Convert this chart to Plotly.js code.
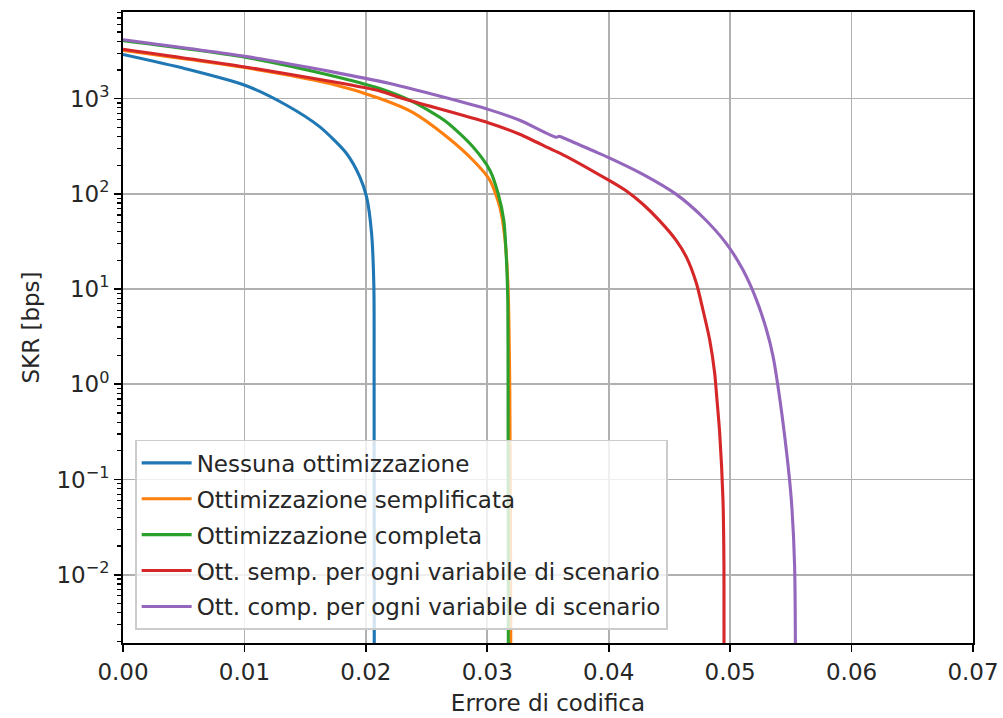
<!DOCTYPE html>
<html>
<head>
<meta charset="utf-8">
<script src="https://cdn.plot.ly/plotly-3.0.1.min.js"></script>
<style>html,body{margin:0;padding:0;background:#fff;}#chart{width:1003px;height:718px;}</style>
</head>
<body>
<div id="chart"></div>
<script>
// Series names
const seriesNames = [
  "Nessuna ottimizzazione",
  "Ottimizzazione semplificata",
  "Ottimizzazione completa",
  "Ott. semp. per ogni variabile di scenario",
  "Ott. comp. per ogni variabile di scenario"
];
const seriesColors = ["#1f77b4", "#ff7f0e", "#2ca02c", "#d62728", "#9467bd"];

// Nessuna ottimizzazione
const blueX = [0, 0.0052, 0.01004, 0.01347, 0.01621, 0.01841, 0.01951, 0.02006, 0.02047, 0.02066, 0.02068, 0.02069, 0.0207];
const blueY = [2900, 2050, 1380, 851, 504, 265, 150, 92.7, 38.6, 10.5, 1, 0.004, 0.00001];

// Ottimizzazione semplificata
const orangeX = [0, 0.01004, 0.01704, 0.02115, 0.02389, 0.02664, 0.02883, 0.03021, 0.03103, 0.03144, 0.03171, 0.03185, 0.03193, 0.03195];
const orangeY = [3200, 2115, 1436, 1000, 712, 400, 225, 139, 73, 35, 10.5, 1, 0.004, 0.00001];

// Ottimizzazione completa
const greenX = [0, 0.01004, 0.01704, 0.02115, 0.02389, 0.02664, 0.02883, 0.03021, 0.03089, 0.03136, 0.03158, 0.03169, 0.03171, 0.03173, 0.03174];
const greenY = [4050, 2720, 1760, 1274, 921, 568, 310, 177, 101, 52.8, 20, 7.1, 1, 0.004, 0.00001];

// Ott. semp. per ogni variabile di scenario
const redX = [0, 0.01004, 0.01704, 0.02115, 0.02305, 0.03007, 0.03267, 0.03542, 0.03597, 0.04, 0.04146, 0.04282, 0.04420, 0.04557, 0.04640, 0.04722, 0.04776, 0.04831, 0.04872, 0.04891, 0.04914, 0.04941, 0.04949, 0.04951];
const redY = [3300, 2150, 1520, 1202, 1000, 557, 422, 287, 268, 139, 107, 77.6, 52, 32.3, 21.6, 11.5, 6.05, 2.95, 1.33, 0.70, 0.305, 0.061, 0.0122, 0.00001];

// Ott. comp. per ogni variabile di scenario
const purpleX = [0, 0.01004, 0.01704, 0.02198, 0.03007, 0.03267, 0.03570, 0.03590, 0.03624, 0.03871, 0.04, 0.04282, 0.04557, 0.04776, 0.04969, 0.05105, 0.05216, 0.05298, 0.05352, 0.05393, 0.05463, 0.05504, 0.05531, 0.0554];
const purpleY = [4150, 2780, 1930, 1436, 770, 592, 392, 402, 388, 283, 240, 160, 98.6, 56.7, 30, 15.9, 7.74, 3.78, 2.0, 0.97, 0.203, 0.061, 0.0122, 0.00001];

const xs = [blueX, orangeX, greenX, redX, purpleX];
const ys = [blueY, orangeY, greenY, redY, purpleY];

// Axis ticks
const xTickVals = [0, 0.01, 0.02, 0.03, 0.04, 0.05, 0.06, 0.07];
const yTickVals = [0.01, 0.1, 1, 10, 100, 1000];
const yTickText = ["10<sup>\u22122</sup>", "10<sup>\u22121</sup>", "10<sup>0</sup>", "10<sup>1</sup>", "10<sup>2</sup>", "10<sup>3</sup>"];
const yMinorVals = [];
for (let p = -3; p <= 3; p++) {
  for (let m = 2; m <= 9; m++) yMinorVals.push(m * Math.pow(10, p));
}

const FS = 23;
const FONT = "DejaVu Sans, Verdana, sans-serif";

const traces = seriesNames.map((n, i) => ({
  x: xs[i], y: ys[i], name: n, type: "scatter", mode: "lines",
  line: {color: seriesColors[i], width: 3.1, shape: "spline", smoothing: 0.7},
  legendgroup: "g" + i
}));

const layout = {
  width: 1003, height: 718,
  margin: {l: 123, r: 29.5, t: 11.7, b: 74.7, pad: 0},
  paper_bgcolor: "#ffffff", plot_bgcolor: "#ffffff",
  font: {family: FONT, size: FS, color: "#262626"},
  showlegend: true,
  legend: {
    x: 0.0141, y: 0.021, xanchor: "left", yanchor: "bottom",
    bgcolor: "rgba(255,255,255,0.8)", bordercolor: "#cccccc", borderwidth: 1.67,
    font: {family: FONT, size: FS, color: "#262626"},
    traceorder: "grouped", tracegroupgap: 3, itemwidth: 50
  },
  xaxis: {
    range: [0, 0.07], tickmode: "array", tickvals: xTickVals, tickformat: ".2f",
    showgrid: true, gridcolor: "#b0b0b0", gridwidth: 1.67, zeroline: false,
    showline: true, linecolor: "#000000", linewidth: 1.67, mirror: true,
    ticks: "outside", ticklen: 7.3, tickwidth: 1.67, tickcolor: "#000000",
    tickfont: {family: FONT, size: FS, color: "#262626"},
    title: {text: "Errore di codifica", font: {family: FONT, size: FS, color: "#262626"}, standoff: 11}
  },
  yaxis: {
    type: "log", range: [-2.717, 3.909], tickmode: "array", tickvals: yTickVals, ticktext: yTickText,
    showgrid: true, gridcolor: "#b0b0b0", gridwidth: 1.67, zeroline: false,
    showline: true, linecolor: "#000000", linewidth: 1.67, mirror: true,
    ticks: "outside", ticklen: 7.3, tickwidth: 1.67, tickcolor: "#000000",
    tickfont: {family: FONT, size: FS, color: "#262626"},
    minor: {tickmode: "array", tickvals: yMinorVals, ticks: "outside", ticklen: 4.2, tickwidth: 1.25, tickcolor: "#000000", showgrid: false},
    title: {text: "SKR [bps]", font: {family: FONT, size: FS, color: "#262626"}, standoff: 10}
  }
};

Plotly.newPlot("chart", traces, layout, {displayModeBar: false, staticPlot: true});
</script>
</body>
</html>
